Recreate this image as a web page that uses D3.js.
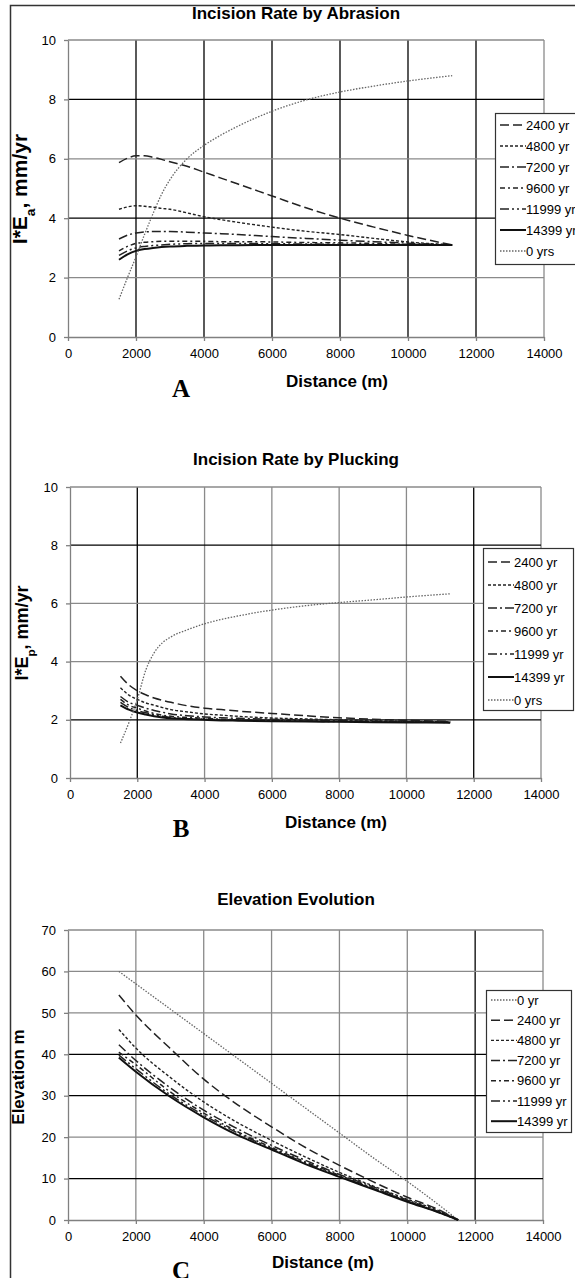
<!DOCTYPE html>
<html>
<head>
<meta charset="utf-8">
<script src="https://cdn.jsdelivr.net/npm/d3@7"></script>
<style>
  body { margin: 0; background: #fff; }
  svg text { font-family: "Liberation Sans", Arial, sans-serif; fill: #000; }
</style>
</head>
<body>
<div id="chart"></div>
<script>
// data
const distAB = [1500, 1750, 2000, 2250, 2500, 2750, 3000, 3500, 4000, 4500, 5000, 6000, 7000, 8000, 9000, 10000, 11300];
const distC = [1500, 2000, 3000, 4000, 5000, 6000, 7000, 8000, 9000, 10000, 11000, 11500];
const xTicks = [0, 2000, 4000, 6000, 8000, 10000, 12000, 14000];
const rateTicks = [0, 2, 4, 6, 8, 10];
const elevTicks = [0, 10, 20, 30, 40, 50, 60, 70];

const abrasion0 = [1.27, 2.0, 2.7, 3.45, 4.15, 4.8, 5.3, 6.0, 6.45, 6.8, 7.1, 7.6, 7.98, 8.25, 8.45, 8.62, 8.8];
const abrasion2400 = [5.87, 6.02, 6.1, 6.1, 6.05, 5.98, 5.9, 5.75, 5.55, 5.35, 5.15, 4.75, 4.35, 4.0, 3.7, 3.42, 3.1];
const abrasion4800 = [4.3, 4.38, 4.42, 4.4, 4.37, 4.33, 4.3, 4.18, 4.05, 3.95, 3.86, 3.7, 3.56, 3.45, 3.32, 3.2, 3.1];
const abrasion7200 = [3.3, 3.43, 3.5, 3.54, 3.55, 3.55, 3.55, 3.53, 3.5, 3.48, 3.45, 3.38, 3.32, 3.26, 3.21, 3.16, 3.1];
const abrasion9600 = [2.9, 3.05, 3.15, 3.19, 3.21, 3.22, 3.22, 3.22, 3.22, 3.21, 3.21, 3.2, 3.18, 3.17, 3.15, 3.12, 3.1];
const abrasion11999 = [2.75, 2.9, 3.0, 3.05, 3.08, 3.1, 3.12, 3.14, 3.15, 3.15, 3.15, 3.14, 3.13, 3.12, 3.11, 3.1, 3.1];
const abrasion14399 = [2.6, 2.78, 2.9, 2.96, 3.0, 3.03, 3.05, 3.07, 3.08, 3.09, 3.09, 3.1, 3.1, 3.1, 3.1, 3.1, 3.1];

const plucking0 = [1.2, 1.9, 2.7, 3.7, 4.3, 4.65, 4.85, 5.1, 5.3, 5.45, 5.57, 5.77, 5.92, 6.03, 6.12, 6.22, 6.33];
const plucking2400 = [3.5, 3.2, 3.0, 2.86, 2.75, 2.67, 2.6, 2.48, 2.4, 2.35, 2.3, 2.22, 2.14, 2.07, 2.02, 1.98, 1.95];
const plucking4800 = [3.1, 2.85, 2.7, 2.58, 2.5, 2.42, 2.35, 2.27, 2.2, 2.16, 2.12, 2.06, 2.03, 2.0, 1.97, 1.95, 1.93];
const plucking7200 = [2.8, 2.6, 2.5, 2.4, 2.32, 2.26, 2.2, 2.14, 2.1, 2.07, 2.05, 2.02, 1.99, 1.97, 1.95, 1.94, 1.92];
const plucking9600 = [2.7, 2.5, 2.4, 2.3, 2.22, 2.16, 2.12, 2.08, 2.05, 2.02, 2.0, 1.98, 1.96, 1.95, 1.94, 1.93, 1.92];
const plucking11999 = [2.6, 2.42, 2.32, 2.24, 2.18, 2.12, 2.08, 2.04, 2.02, 2.0, 1.99, 1.97, 1.95, 1.94, 1.93, 1.92, 1.91];
const plucking14399 = [2.5, 2.35, 2.25, 2.18, 2.12, 2.08, 2.05, 2.02, 2.0, 1.98, 1.97, 1.95, 1.94, 1.93, 1.92, 1.91, 1.9];

const elev0 = [60, 57, 51, 45, 39, 33, 27, 21, 15, 9.3, 3.2, 0];
const elev2400 = [54.3, 49.5, 41.5, 34, 27.8, 22.5, 17.5, 13.2, 9.2, 5.5, 2.2, 0];
const elev4800 = [46, 41.5, 34.5, 28.5, 23.5, 19.2, 15.2, 11.5, 8.2, 5, 2, 0];
const elev7200 = [42.3, 38.5, 32, 26.5, 22, 18, 14.4, 11, 8, 4.8, 1.8, 0];
const elev9600 = [40.5, 37.5, 31, 25.8, 21.3, 17.5, 14, 10.8, 7.7, 4.6, 1.7, 0];
const elev11999 = [39.8, 36.5, 30.3, 25.3, 21, 17.3, 13.8, 10.6, 7.6, 4.5, 1.6, 0];
const elev14399 = [39.2, 35.8, 29.8, 24.8, 20.5, 17, 13.5, 10.4, 7.4, 4.4, 1.6, 0];

// excel-like line patterns
const styles = {
  "0": { dash: "1.5,1.5", color: "#666", w: 1.3 },
  "2400": { dash: "9,4", color: "#222", w: 1.5 },
  "4800": { dash: "3,2", color: "#222", w: 1.4 },
  "7200": { dash: "9,3,2,3", color: "#222", w: 1.5 },
  "9600": { dash: "5,3,2,3", color: "#222", w: 1.5 },
  "11999": { dash: "9,3,2,3,2,3", color: "#222", w: 1.5 },
  "14399": { dash: null, color: "#111", w: 2 }
};

const width = 575, height = 1278;
const svg = d3.select("#chart").append("svg")
  .attr("width", width)
  .attr("height", height);

// outer frame of the figure
svg.append("rect")
  .attr("x", 10.5).attr("y", 5.5)
  .attr("width", 600).attr("height", 1300)
  .attr("fill", "none").attr("stroke", "#333").attr("stroke-width", 1.5);

function drawPanel(p) {
  let x = d3.scaleLinear().domain([0, 14000]).range(p.xRange);
  let y = d3.scaleLinear().domain(p.yDomain).range(p.yRange);
  let g = svg.append("g");

  // grid
  g.selectAll(".vg").data(xTicks.slice(1)).enter().append("line")
    .attr("x1", d => x(d)).attr("x2", d => x(d))
    .attr("y1", y(p.yDomain[0])).attr("y2", y(p.yDomain[1]))
    .attr("stroke", d => p.darkX.includes(d) ? "#000" : "#8a8a8a")
    .attr("stroke-width", 1.3);
  g.selectAll(".hg").data(p.yTicks.slice(1)).enter().append("line")
    .attr("x1", x(0)).attr("x2", x(14000))
    .attr("y1", d => y(d)).attr("y2", d => y(d))
    .attr("stroke", d => p.darkY.includes(d) ? "#000" : "#8a8a8a")
    .attr("stroke-width", 1.3);

  // axes
  let xAxis = g.append("g")
    .attr("transform", "translate(0," + y(p.yDomain[0]) + ")")
    .call(d3.axisBottom(x).tickValues(xTicks).tickFormat(d3.format("d"))
      .tickSize(4).tickPadding(8).tickSizeOuter(0));
  let yAxis = g.append("g")
    .attr("transform", "translate(" + x(0) + ",0)")
    .call(d3.axisLeft(y).tickValues(p.yTicks).tickFormat(d3.format("d"))
      .tickSize(4).tickPadding(8).tickSizeOuter(0));
  [xAxis, yAxis].forEach(a => {
    a.select(".domain").attr("stroke", "#808080").attr("stroke-width", 1.3);
    a.selectAll(".tick line").attr("stroke", "#808080").attr("stroke-width", 1.3);
    a.selectAll(".tick text").style("font-size", "13px").attr("fill", "#000");
  });

  // series
  let line = d3.line()
    .x((d, i) => x(p.dist[i]))
    .y(d => y(d))
    .curve(d3.curveMonotoneX);
  p.series.forEach(s => {
    let st = styles[s.key];
    g.append("path")
      .datum(s.values)
      .attr("fill", "none")
      .attr("stroke", st.color)
      .attr("stroke-width", st.w)
      .attr("stroke-dasharray", st.dash)
      .attr("d", line);
  });

  // titles
  g.append("text")
    .attr("x", 296).attr("y", p.titleY)
    .attr("text-anchor", "middle")
    .style("font-size", "17px").style("font-weight", "bold")
    .text(p.title);
  g.append("text")
    .attr("x", p.xLabelX).attr("y", p.xLabelY)
    .attr("text-anchor", "middle")
    .style("font-size", "17px").style("font-weight", "bold")
    .text("Distance (m)");
  g.append("text")
    .attr("x", 181).attr("y", p.letterY)
    .attr("text-anchor", "middle")
    .style("font-family", "'Liberation Serif', 'Times New Roman', serif")
    .style("font-size", "25px").style("font-weight", "bold")
    .text(p.letter);

  let yl = g.append("text")
    .attr("transform", "translate(" + p.yLabelPos[0] + "," + p.yLabelPos[1] + ") rotate(-90)")
    .attr("text-anchor", "middle")
    .attr("dy", "0.35em")
    .style("font-size", p.yLabelSize + "px").style("font-weight", "bold");
  yl.append("tspan").text(p.yLabel[0]);
  if (p.yLabel[1]) {
    yl.append("tspan").attr("baseline-shift", "sub").style("font-size", "65%").text(p.yLabel[1]);
    yl.append("tspan").text(p.yLabel[2]);
  }

  // legend
  let lg = g.append("g");
  lg.append("rect")
    .attr("x", p.legend.x + 0.5).attr("y", p.legend.y + 0.5)
    .attr("width", p.legend.w).attr("height", p.legend.h)
    .attr("fill", "#fff").attr("stroke", "#333").attr("stroke-width", 1.2);
  p.legendOrder.forEach((s, i) => {
    let st = styles[s.key];
    let cy = p.legend.y + p.legend.first + i * p.legend.step;
    lg.append("line")
      .attr("x1", p.legend.x + 5).attr("x2", p.legend.x + 31)
      .attr("y1", cy).attr("y2", cy)
      .attr("stroke", st.color).attr("stroke-width", st.w)
      .attr("stroke-dasharray", st.dash);
    lg.append("text")
      .attr("x", p.legend.x + 31).attr("y", cy)
      .attr("dy", "0.35em")
      .style("font-size", "13px")
      .text(s.label);
  });
}

const abrasionSeries = [
  { key: "2400", label: "2400 yr", values: abrasion2400 },
  { key: "4800", label: "4800 yr", values: abrasion4800 },
  { key: "7200", label: "7200 yr", values: abrasion7200 },
  { key: "9600", label: "9600 yr", values: abrasion9600 },
  { key: "11999", label: "11999 yr", values: abrasion11999 },
  { key: "14399", label: "14399 yr", values: abrasion14399 },
  { key: "0", label: "0 yrs", values: abrasion0 }
];
const pluckingSeries = [
  { key: "2400", label: "2400 yr", values: plucking2400 },
  { key: "4800", label: "4800 yr", values: plucking4800 },
  { key: "7200", label: "7200 yr", values: plucking7200 },
  { key: "9600", label: "9600 yr", values: plucking9600 },
  { key: "11999", label: "11999 yr", values: plucking11999 },
  { key: "14399", label: "14399 yr", values: plucking14399 },
  { key: "0", label: "0 yrs", values: plucking0 }
];
const elevSeries = [
  { key: "0", label: "0 yr", values: elev0 },
  { key: "2400", label: "2400 yr", values: elev2400 },
  { key: "4800", label: "4800 yr", values: elev4800 },
  { key: "7200", label: "7200 yr", values: elev7200 },
  { key: "9600", label: "9600 yr", values: elev9600 },
  { key: "11999", label: "11999 yr", values: elev11999 },
  { key: "14399", label: "14399 yr", values: elev14399 }
];

drawPanel({
  title: "Incision Rate by Abrasion", titleY: 19,
  xRange: [68, 544], yDomain: [0, 10], yRange: [337, 40], yTicks: rateTicks,
  darkX: [2000, 4000, 6000, 8000, 10000, 12000], darkY: [8, 4],
  dist: distAB, series: abrasionSeries, legendOrder: abrasionSeries,
  xLabelX: 337, xLabelY: 387, letter: "A", letterY: 397,
  yLabel: ["I*E", "a", ", mm/yr"], yLabelSize: 21, yLabelPos: [20, 189],
  legend: { x: 495, y: 113, w: 100, h: 151, first: 12, step: 21 }
});

drawPanel({
  title: "Incision Rate by Plucking", titleY: 465,
  xRange: [70, 541], yDomain: [0, 10], yRange: [778, 487], yTicks: rateTicks,
  darkX: [2000, 12000], darkY: [8, 2],
  dist: distAB, series: pluckingSeries, legendOrder: pluckingSeries,
  xLabelX: 336, xLabelY: 828, letter: "B", letterY: 837,
  yLabel: ["I*E", "p", ", mm/yr"], yLabelSize: 18, yLabelPos: [22, 633],
  legend: { x: 483, y: 548, w: 90, h: 162, first: 14, step: 23 }
});

drawPanel({
  title: "Elevation Evolution", titleY: 905,
  xRange: [68, 543], yDomain: [0, 70], yRange: [1220, 930], yTicks: elevTicks,
  darkX: [12000], darkY: [40, 30, 10],
  dist: distC, series: elevSeries, legendOrder: elevSeries,
  xLabelX: 323, xLabelY: 1268, letter: "C", letterY: 1279,
  yLabel: ["Elevation m"], yLabelSize: 17, yLabelPos: [18, 1077],
  legend: { x: 486, y: 990, w: 85, h: 142, first: 10, step: 20.2 }
});
</script>
</body>
</html>
